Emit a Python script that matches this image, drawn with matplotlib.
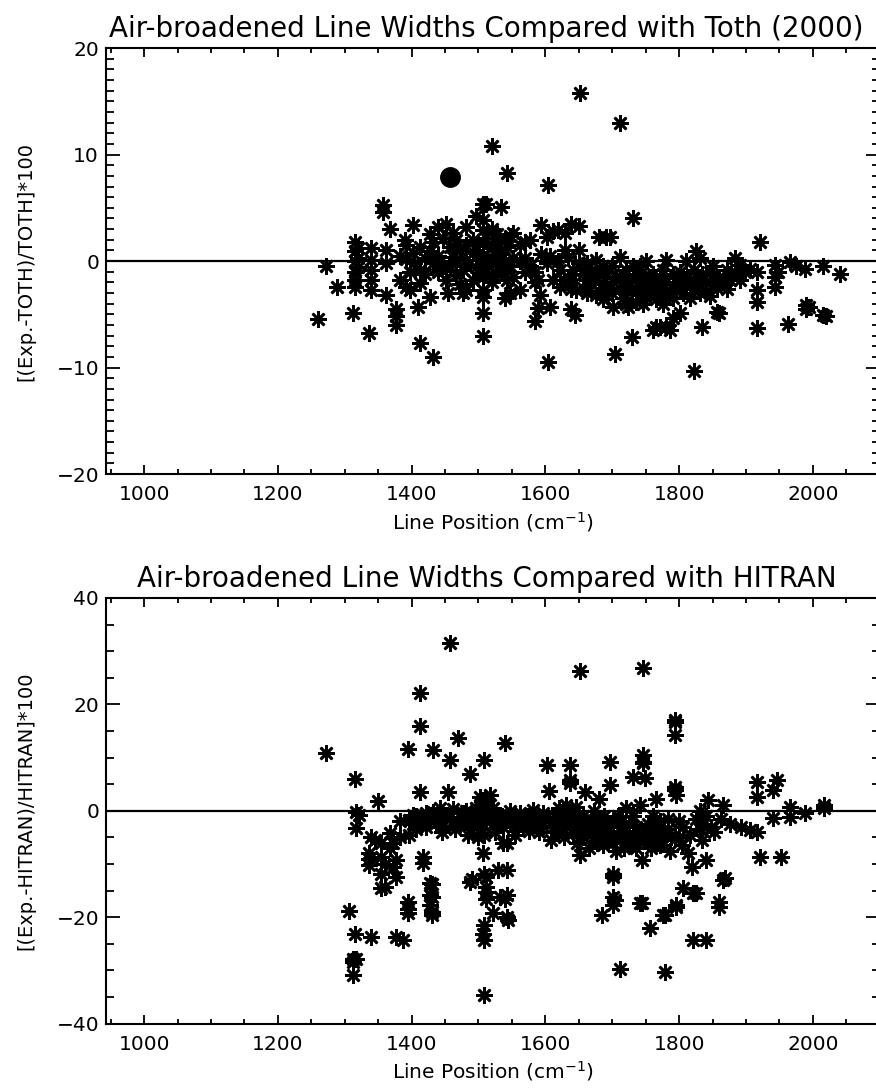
import matplotlib
matplotlib.use("Agg")
import matplotlib.pyplot as plt
from matplotlib.ticker import MultipleLocator

plt.rcParams['font.family'] = ['DejaVu Sans']

# ---------------- data: top panel (Toth 2000) ----------------
top_x = [
    1260, 1272, 1288, 1312, 1337,
    1315, 1315, 1315, 1315, 1315, 1315,
    1320, 1320, 1320,
    1340, 1340, 1340, 1340, 1340,
    1357, 1357, 1367, 1362, 1362, 1362,
    1377, 1377, 1377, 1382, 1382, 1392, 1392, 1392, 1397, 1397,
    1402, 1402, 1390, 1412, 1412, 1412, 1412, 1410,
    1427, 1427, 1427, 1432, 1432, 1432, 1404, 1420, 1420,
    1440, 1440, 1440, 1447, 1447, 1457, 1457, 1462, 1462, 1452, 1452, 1454,
    1467, 1467, 1467, 1472, 1472, 1482, 1482, 1482, 1482, 1492, 1492, 1492,
    1497, 1497, 1497, 1477, 1477,
    1507, 1507, 1507, 1507, 1507, 1507, 1507, 1507, 1507, 1507, 1507,
    1512, 1512, 1512, 1512,
    1520, 1520, 1520, 1520, 1520,
    1527, 1527, 1527, 1527, 1534, 1534, 1534, 1539, 1539, 1539,
    1542, 1542, 1542, 1547, 1547, 1547, 1552, 1552, 1552, 1562, 1562, 1562,
    1570, 1570, 1570, 1577, 1577, 1585, 1585, 1585, 1589, 1589, 1592,
    1594, 1594, 1602, 1602, 1604, 1604, 1607, 1607, 1611, 1611,
    1619, 1619, 1622, 1622, 1629, 1629, 1634, 1634, 1639, 1639, 1639,
    1641, 1636, 1644, 1646, 1651, 1651, 1651, 1652, 1656, 1656,
    1662, 1662, 1662, 1668, 1668, 1676, 1676, 1676, 1681, 1681, 1681,
    1686, 1686, 1686, 1691, 1691, 1691, 1696, 1699, 1699, 1701, 1701, 1704,
    1711, 1711, 1711, 1711, 1716, 1716, 1721, 1721, 1721, 1724, 1724,
    1729, 1729, 1731, 1731, 1736, 1736, 1736, 1741, 1741, 1741,
    1746, 1746, 1746, 1751, 1751, 1751, 1756, 1756, 1756,
    1761, 1761, 1761, 1766, 1766, 1766, 1771, 1771, 1771, 1776, 1776, 1776,
    1781, 1781, 1781, 1781, 1786, 1786, 1791, 1791, 1791, 1796, 1796,
    1801, 1801, 1801, 1806, 1806, 1811, 1811, 1816, 1816,
    1822, 1822, 1822, 1826, 1826, 1831, 1831, 1831, 1835, 1835,
    1841, 1841, 1846, 1846, 1851, 1851, 1856, 1856, 1860, 1860,
    1866, 1871, 1871, 1876, 1883, 1883, 1891, 1891, 1898, 1906,
    1916, 1916, 1916, 1916, 1921, 1943, 1943, 1943, 1948,
    1963, 1966, 1975, 1988, 1990, 1990, 1994, 2015, 2015, 2019, 2040,
]
top_y = [
    -5.4, -0.5, -2.4, -4.9, -6.8,
    1.8, 0.9, 0.0, -1.0, -1.8, -2.4,
    1.2, 0.3, -0.6,
    1.2, 0.1, -0.8, -1.8, -2.7,
    5.3, 4.6, 3.0, -0.2, -3.2, 1.0,
    -4.5, -6.0, -5.2, -1.8, 0.5, -2.4, 1.5, 0.2, -2.7, -1.0,
    3.4, 0.8, 2.0, 1.3, -2.1, -7.7, -0.8, -4.3,
    0.9, -3.4, 2.5, -0.2, -9.0, 1.8, -0.2, -1.2, 0.3,
    0.5, -1.0, 3.2, 2.2, -0.5, 1.3, -0.5, 0.4, 2.6, -1.8, 3.5, -3.0,
    2.0, -1.3, 0.2, -2.2, 1.0, 3.2, 0.1, -2.7, 1.5, 2.0, -1.8, 0.8,
    1.0, -0.6, 4.2, -0.8, -3.0,
    5.4, 3.9, 2.9, 1.7, 0.6, -0.5, -1.5, -2.7, -3.4, -4.9, -7.0,
    5.4, 2.2, 0.2, -1.0,
    10.8, 3.0, 1.2, -0.3, -2.0,
    1.8, 0.5, -1.2, 2.5, 5.1, 0.8, -0.8, -3.5, 2.0, 0.0,
    8.3, 1.3, -1.8, 2.4, -0.5, -3.0, 2.6, 0.3, -1.5, -2.7, 1.5, 0.0,
    1.8, 0.3, -1.0, 2.0, -0.5, -5.6, -1.0, -2.0, -1.8, -4.4, -3.2,
    3.4, 0.7, -0.2, 2.3, 7.1, -9.5, -4.3, 0.5, -1.8, 2.8,
    2.9, 0.0, -2.4, -0.8, 2.6, 1.0, 0.4, -1.5, 3.5, -4.5, -2.6,
    -0.8, -1.8, -5.1, -2.7, -0.2, 3.3, 1.0, 15.8, -1.2, -2.5,
    -0.2, -1.8, -3.0, -0.8, -2.2, 0.1, -1.5, -3.2, 2.3, -1.2, -2.8,
    -2.1, -0.5, -3.6, 2.3, -1.0, -2.5, 2.3, -0.5, -3.0, -4.3, -2.0, -8.7,
    0.4, 13.0, -2.5, -1.5, -1.2, -3.5, -2.4, -0.8, -4.0, -4.3, -1.8,
    -7.1, -2.8, 4.0, -0.5, -2.7, -1.2, -3.8, -0.5, -2.0, -3.2,
    -1.5, -2.6, -4.0, -2.2, -3.5, 0.0, -1.5, -3.0, -2.0,
    -2.7, -6.5, -1.2, -3.6, -2.0, -6.2, -1.8, -6.2, -3.0, -2.5, -4.0, -0.8,
    0.1, -3.0, -6.2, -2.0, -6.5, -2.8, -1.2, -3.5, -5.3, -2.5, -2.0,
    -2.4, -4.9, -1.0, -3.0, -1.5, -2.2, 0.0, -3.5, -1.8,
    -10.3, -0.8, -2.6, 0.9, -1.5, -2.2, 0.3, -3.0, -6.2, -1.2,
    -2.0, -2.8, -1.0, -3.3, -1.8, -0.5, -2.5, -4.8, -4.9, -1.5,
    -2.0, -0.8, -2.6, -1.8, 0.3, -1.0, -0.4, -1.8, -1.0, -0.7,
    -2.7, -3.8, -6.3, -1.0, 1.8, -0.4, -1.5, -2.4, -1.0,
    -5.9, -0.1, -0.5, -0.7, -4.1, -4.5, -4.3, -0.5, -5.1, -5.2, -1.2,
]
# single highlighted value (filled circle)
dot_x = [1458]
dot_y = [7.9]

# ---------------- data: bottom panel (HITRAN) ----------------
bot_x = [
    1272, 1307, 1312, 1312, 1312, 1315, 1315, 1317, 1317, 1317, 1322,
    1337, 1337, 1337, 1340, 1340, 1345, 1350,
    1355, 1355, 1355, 1355, 1360, 1360, 1367, 1367, 1372, 1372,
    1377, 1377, 1377, 1382, 1382, 1387,
    1395, 1395, 1395, 1395, 1396, 1396, 1402, 1402, 1407, 1407,
    1412, 1412, 1412, 1412, 1417, 1417, 1417, 1422, 1422,
    1427, 1427, 1427, 1427, 1430, 1430, 1430, 1430, 1432, 1432,
    1437, 1437, 1442, 1442, 1447, 1447, 1455, 1457, 1457, 1457, 1462, 1462,
    1469, 1472, 1472, 1477, 1477, 1482, 1482, 1487, 1487, 1490,
    1492, 1492, 1497, 1497, 1502, 1502, 1502, 1502,
    1507, 1507, 1507, 1507, 1507,
    1509, 1509, 1509, 1509, 1509, 1509,
    1512, 1512, 1512, 1512, 1512, 1512, 1517, 1517, 1517, 1522, 1522, 1522,
    1529, 1529, 1532, 1532, 1537, 1537, 1539, 1539,
    1542, 1542, 1542, 1542, 1542, 1544, 1547, 1547, 1552, 1552, 1557,
    1562, 1562, 1567, 1572, 1572, 1577, 1577, 1582, 1582, 1587, 1587,
    1592, 1597, 1597, 1602, 1606, 1606, 1611, 1611, 1616, 1616,
    1621, 1621, 1626, 1626, 1631, 1631, 1637, 1637, 1637, 1637,
    1641, 1641, 1646, 1646, 1652, 1652, 1652, 1656, 1656, 1659,
    1663, 1663, 1668, 1668, 1673, 1673, 1678, 1678, 1681, 1681,
    1684, 1684, 1688, 1688, 1692, 1692, 1696, 1696, 1696,
    1701, 1701, 1701, 1701, 1701, 1701, 1704, 1708, 1708, 1712, 1712,
    1715, 1715, 1720, 1720, 1725, 1725, 1731, 1731, 1731, 1736, 1736,
    1741, 1741, 1741, 1744, 1744, 1746, 1746, 1746, 1746, 1749, 1749,
    1753, 1753, 1756, 1756, 1761, 1761, 1766, 1766, 1771, 1771,
    1776, 1776, 1779, 1779, 1783, 1783, 1788,
    1794, 1794, 1794, 1794, 1794, 1796, 1796, 1796, 1800, 1800,
    1806, 1806, 1814, 1819, 1821, 1821, 1826, 1826, 1831, 1831, 1836,
    1841, 1841, 1841, 1843, 1848, 1859, 1859, 1866, 1866, 1868,
    1876, 1892, 1906, 1916, 1916, 1916, 1921, 1941, 1941, 1946, 1953,
    1966, 1966, 1988, 2016, 2016,
    # additional points in the dense band near zero
    1445, 1465, 1485, 1500, 1525, 1535, 1555, 1575, 1590, 1608,
    1628, 1648, 1666, 1686, 1706, 1718, 1728, 1738, 1758, 1768,
    1786, 1804, 1816, 1834, 1852, 1862,
]
bot_y = [
    10.8, -18.8, -27.8, -30.9, -28.4, 5.9, -23.1, -27.8, -0.3, -3.3, -0.8,
    -9.0, -8.0, -10.2, -4.9, -23.7, -5.5, 1.8,
    -8.7, -11.8, -14.6, -6.0, -14.3, -10.0, -4.2, -7.0, -6.0, -10.5,
    -9.3, -12.4, -23.7, -5.0, -2.0, -24.3,
    11.7, -17.1, -18.4, -19.3, -4.6, -1.8, -2.5, -0.8, -3.5, -1.0,
    22.1, 15.9, 3.6, -1.5, -8.7, -9.9, -2.0, -0.5, -3.0,
    -13.6, -15.9, -17.8, -1.5, -19.6, -16.2, -13.7, -19.0, 11.4, -0.3,
    -2.3, -1.0, -1.5, 0.5, -2.8, -0.8, 3.6, 31.5, 9.5, -1.2, -2.0, 0.3,
    13.6, -1.2, -2.5, -0.5, -1.8, -2.2, 0.0, -13.4, 7.0, -12.8,
    -1.5, -3.0, 0.5, -2.0, -1.0, 1.0, 2.5, -3.5,
    -8.0, -23.1, 2.0, 0.0, -2.5,
    9.5, -34.7, -11.8, -21.5, -24.3, -4.5,
    -12.4, -14.3, -15.2, -16.5, 1.5, -1.0, -0.5, -2.0, 3.0, -19.3, -1.5, 0.5,
    -11.1, -2.5, -16.2, -0.8, -6.1, -3.0, 12.8, -16.5,
    -15.8, -6.1, -11.2, -19.9, -1.5, -20.6, -2.0, 0.0, -1.0, -3.0, -2.2,
    -1.5, -0.5, -3.0, -2.0, -1.0, -0.8, -2.5, -1.8, 0.2, -2.5, -3.2,
    -1.2, -2.8, -0.5, 8.6, 3.8, -1.5, -3.0, -2.0, -1.2, -4.0,
    -2.5, 0.5, -3.5, -1.0, -2.2, 1.0, 8.6, 5.8, 5.2, -2.8,
    -0.5, -4.2, -2.0, 0.8, 26.2, -8.3, -3.0, -1.0, -5.0, 3.6,
    -2.5, -4.5, -1.5, -3.5, -5.0, 0.0, -3.0, -6.0, 2.3, -2.0,
    -19.6, -4.5, -3.0, -1.0, -5.5, -2.5, 4.8, 9.2, -3.8,
    -11.8, -12.4, -16.2, -17.7, -6.0, -2.0, -16.8, -4.5, -1.0, -29.7, -3.0,
    -5.2, -2.0, -3.8, 0.5, -6.5, -2.5, 6.4, -4.8, -1.0, -3.0, -7.0,
    -17.4, -5.5, 1.0, -9.3, -17.4, 26.8, 10.5, 9.2, 8.9, 6.1, -4.0,
    -2.5, -6.0, -22.1, -3.5, -1.0, -5.0, 2.3, -3.0, -2.0, -6.5,
    -19.6, -4.5, -30.3, -19.6, -1.5, -3.5, -5.0,
    17.1, 16.7, 14.2, 4.5, 3.9, -18.0, -17.7, 3.0, -2.0, -5.0,
    -14.6, -3.0, -8.0, -10.5, -24.3, -15.5, -15.5, -1.5, -3.5, 0.0, -2.5,
    -9.3, -24.3, -1.0, 2.0, -3.0, -17.1, -18.0, 1.1, -13.0, -12.7,
    -2.4, -3.0, -3.6, 5.5, 2.6, -4.0, -8.7, 3.9, -1.4, 5.8, -8.7,
    0.8, -1.1, -0.5, 1.1, 0.5,
    -4.0, -3.5, -4.5, -5.0, -4.0, -1.0, -4.5, -3.8, -4.0, -5.5,
    -5.0, -6.0, -7.0, -6.5, -7.5, -7.0, -6.0, -5.5, -7.0, -6.0,
    -7.5, -6.5, -4.5, -5.5, -4.0, -1.5,
]

titles = ["Air-broadened Line Widths Compared with Toth (2000)",
          "Air-broadened Line Widths Compared with HITRAN"]
ylabels = ["[(Exp.-TOTH)/TOTH]*100", "[(Exp.-HITRAN)/HITRAN]*100"]
xlabel = "Line Position (cm$^{-1}$)"
xlim = (943, 2100)
ylims = [(-20, 20), (-40, 40)]
ymajor = [10, 20]
yminor = [1, 5]

fig = plt.figure(figsize=(8.76, 10.88), dpi=100)
ax1 = fig.add_axes([0.121, 0.5643, 0.8832, 0.3915])
ax2 = fig.add_axes([0.121, 0.0592, 0.8832, 0.3912])

star = (8, 2, 0)
for i, ax in enumerate([ax1, ax2]):
    xs, ys = (top_x, top_y) if i == 0 else (bot_x, bot_y)
    ax.axhline(0, color='black', lw=1.6, zorder=1)
    ax.plot(xs, ys, linestyle='none', marker=star, markersize=12,
            markeredgewidth=1.9, color='black', zorder=2)
    if i == 0:
        ax.plot(dot_x, dot_y, linestyle='none', marker='o', markersize=14,
                color='black', zorder=3)
    ax.set_xlim(*xlim)
    ax.set_ylim(*ylims[i])
    ax.xaxis.set_major_locator(MultipleLocator(200))
    ax.xaxis.set_minor_locator(MultipleLocator(50))
    ax.yaxis.set_major_locator(MultipleLocator(ymajor[i]))
    ax.yaxis.set_minor_locator(MultipleLocator(yminor[i]))
    ax.tick_params(axis='both', which='both', direction='in',
                   top=True, right=True, width=1.3, labelsize=14.5)
    ax.tick_params(axis='x', which='major', length=6.5, pad=8)
    ax.tick_params(axis='x', which='minor', length=3.5)
    ax.tick_params(axis='y', which='major', length=10, pad=5)
    ax.tick_params(axis='y', which='minor', length=5.5)
    for s in ax.spines.values():
        s.set_linewidth(1.5)
    ax.set_title(titles[i], fontsize=20, pad=8, x=0.492)
    ax.set_xlabel(xlabel, fontsize=14.5, labelpad=4)
    ax.set_ylabel(ylabels[i], fontsize=14, labelpad=15)

fig.savefig("out.png", dpi=100)
